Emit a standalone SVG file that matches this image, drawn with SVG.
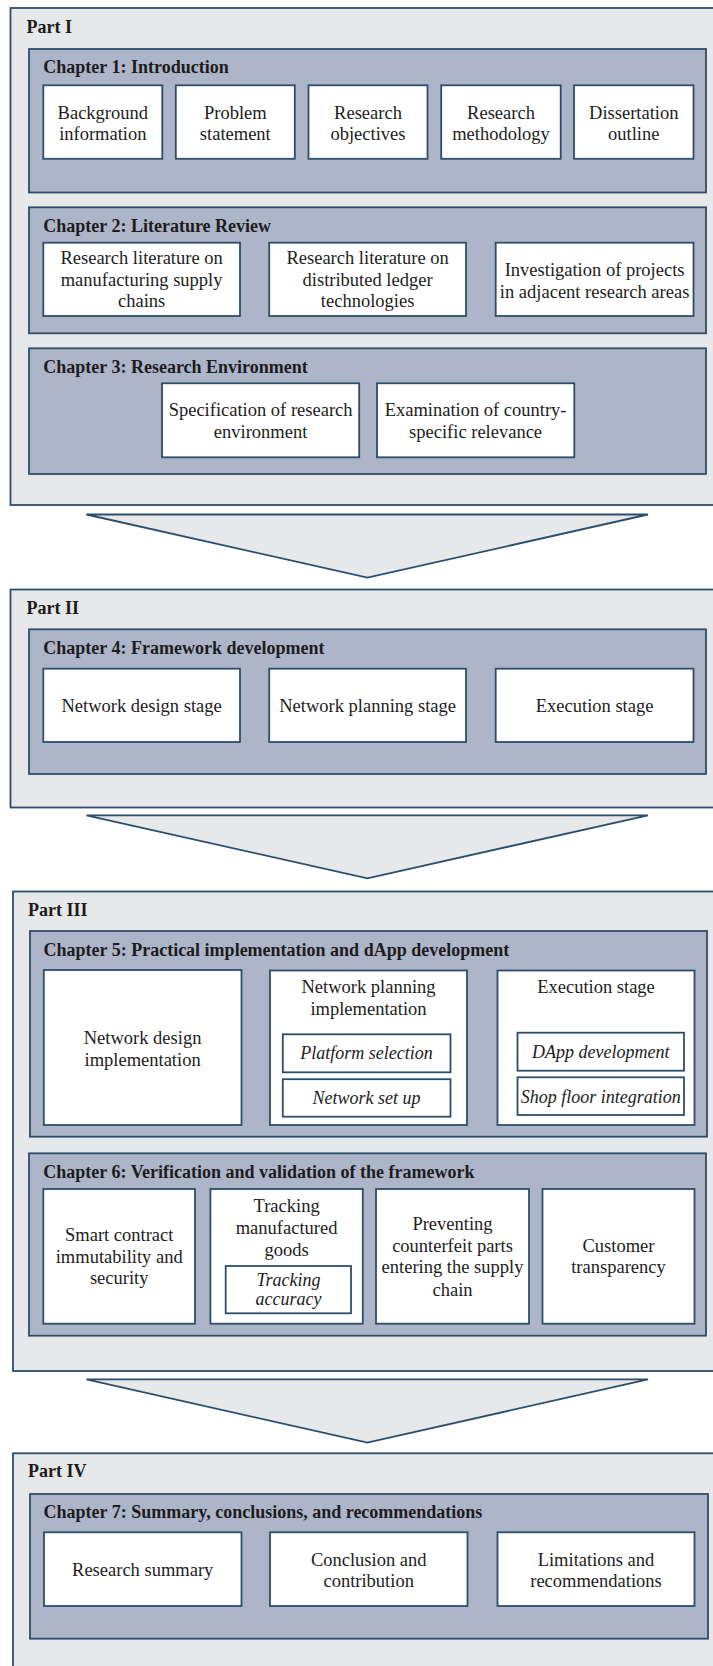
<svg xmlns="http://www.w3.org/2000/svg" width="713" height="1666" viewBox="0 0 713 1666">
  <style>
    .part { fill: #e7e8ea; stroke: #2d4d6c; stroke-width: 1.8; }
    .chap { fill: #adb5c8; stroke: #2d4d6c; stroke-width: 1.8; }
    .box { fill: #ffffff; stroke: #2d4d6c; stroke-width: 1.8; }
    .arrow { fill: #e7e8ea; stroke: #2d4d6c; stroke-width: 1.8; stroke-linejoin: miter; }
    text { font-family: "Liberation Serif", "Times New Roman", serif; fill: #1c1c1c; }
    .h { font-size: 18px; font-weight: bold; }
    .b { font-size: 18.5px; text-anchor: middle; }
    .i { font-size: 18px; font-style: italic; text-anchor: middle; }
  </style>

  <!-- ===== Part I ===== -->
  <g id="part1">
    <rect class="part" x="10.5" y="8" width="720" height="497"/>
    <text class="h" x="26.5" y="33">Part I</text>
  </g>

  <g id="chapter1">
    <rect class="chap" x="29" y="49" width="677" height="143.5"/>
    <text class="h" x="43.3" y="73">Chapter 1: Introduction</text>
    <g id="ch1-background">
      <rect class="box" x="43.3" y="85.3" width="119" height="73.5"/>
      <text class="b"><tspan x="102.8" y="118.7">Background</tspan><tspan x="102.8" y="140.3">information</tspan></text>
    </g>
    <g id="ch1-problem">
      <rect class="box" x="175.8" y="85.3" width="119" height="73.5"/>
      <text class="b"><tspan x="235.3" y="118.7">Problem</tspan><tspan x="235.3" y="140.3">statement</tspan></text>
    </g>
    <g id="ch1-objectives">
      <rect class="box" x="308.5" y="85.3" width="119" height="73.5"/>
      <text class="b"><tspan x="368" y="118.7">Research</tspan><tspan x="368" y="140.3">objectives</tspan></text>
    </g>
    <g id="ch1-methodology">
      <rect class="box" x="441.2" y="85.3" width="119.5" height="73.5"/>
      <text class="b"><tspan x="501" y="118.7">Research</tspan><tspan x="501" y="140.3">methodology</tspan></text>
    </g>
    <g id="ch1-outline">
      <rect class="box" x="574" y="85.3" width="119.5" height="73.5"/>
      <text class="b"><tspan x="633.8" y="118.7">Dissertation</tspan><tspan x="633.8" y="140.3">outline</tspan></text>
    </g>
  </g>

  <g id="chapter2">
    <rect class="chap" x="29" y="207.3" width="677" height="126"/>
    <text class="h" x="43.3" y="231.7">Chapter 2: Literature Review</text>
    <g id="ch2-msc">
      <rect class="box" x="43.3" y="242.7" width="196.7" height="73.3"/>
      <text class="b"><tspan x="141.6" y="263.5">Research literature on</tspan><tspan x="141.6" y="285.5">manufacturing supply</tspan><tspan x="141.6" y="307.3">chains</tspan></text>
    </g>
    <g id="ch2-dlt">
      <rect class="box" x="269.2" y="242.7" width="196.8" height="73.3"/>
      <text class="b"><tspan x="367.6" y="263.5">Research literature on</tspan><tspan x="367.6" y="285.5">distributed ledger</tspan><tspan x="367.6" y="307.3">technologies</tspan></text>
    </g>
    <g id="ch2-projects">
      <rect class="box" x="495.7" y="242.7" width="197.8" height="73.3"/>
      <text class="b"><tspan x="594.6" y="275.7">Investigation of projects</tspan><tspan x="594.6" y="297.7">in adjacent research areas</tspan></text>
    </g>
  </g>

  <g id="chapter3">
    <rect class="chap" x="29" y="348.3" width="677" height="125.7"/>
    <text class="h" x="43.3" y="372.7">Chapter 3: Research Environment</text>
    <g id="ch3-specification">
      <rect class="box" x="162" y="383.3" width="197.2" height="74"/>
      <text class="b"><tspan x="260.6" y="415.7">Specification of research</tspan><tspan x="260.6" y="437.7">environment</tspan></text>
    </g>
    <g id="ch3-relevance">
      <rect class="box" x="377" y="383.3" width="197.3" height="74"/>
      <text class="b"><tspan x="475.6" y="415.7">Examination of country-</tspan><tspan x="475.6" y="437.7">specific relevance</tspan></text>
    </g>
  </g>

  <!-- ===== Part II ===== -->
  <g id="part2">
    <rect class="part" x="10.5" y="589.5" width="720" height="218"/>
    <text class="h" x="26.5" y="614">Part II</text>
  </g>

  <g id="chapter4">
    <rect class="chap" x="29" y="629.3" width="677" height="144.7"/>
    <text class="h" x="43.3" y="654.3">Chapter 4: Framework development</text>
    <g id="ch4-design">
      <rect class="box" x="43.3" y="668.7" width="196.7" height="73.3"/>
      <text class="b" x="141.6" y="712">Network design  stage</text>
    </g>
    <g id="ch4-planning">
      <rect class="box" x="269.2" y="668.7" width="196.8" height="73.3"/>
      <text class="b" x="367.6" y="712">Network planning  stage</text>
    </g>
    <g id="ch4-execution">
      <rect class="box" x="495.7" y="668.7" width="197.8" height="73.3"/>
      <text class="b" x="594.6" y="712">Execution stage</text>
    </g>
  </g>

  <!-- ===== Part III ===== -->
  <g id="part3">
    <rect class="part" x="13" y="891.5" width="720" height="479.5"/>
    <text class="h" x="28" y="915.7">Part III</text>
  </g>

  <g id="chapter5">
    <rect class="chap" x="30" y="931" width="677" height="205.7"/>
    <text class="h" x="43.5" y="955.5">Chapter 5: Practical implementation  and dApp  development</text>
    <g id="ch5-design">
      <rect class="box" x="43.8" y="970" width="197.7" height="155"/>
      <text class="b"><tspan x="142.6" y="1044">Network design</tspan><tspan x="142.6" y="1065.5">implementation</tspan></text>
    </g>
    <g id="ch5-planning">
      <rect class="box" x="270" y="970.5" width="197" height="154.5"/>
      <text class="b"><tspan x="368.5" y="993.3">Network planning</tspan><tspan x="368.5" y="1015">implementation</tspan></text>
      <g id="ch5-platform">
        <rect class="box" x="282.8" y="1034.3" width="167.7" height="38"/>
        <text class="i" x="366.6" y="1059">Platform selection</text>
      </g>
      <g id="ch5-setup">
        <rect class="box" x="282.8" y="1079.2" width="167.7" height="37.5"/>
        <text class="i" x="366.6" y="1103.5">Network set up</text>
      </g>
    </g>
    <g id="ch5-execution">
      <rect class="box" x="497.5" y="970.5" width="197" height="154.5"/>
      <text class="b" x="596" y="993.3">Execution stage</text>
      <g id="ch5-dapp">
        <rect class="box" x="517.5" y="1032.7" width="166.5" height="38"/>
        <text class="i" x="600.8" y="1058.3">DApp development</text>
      </g>
      <g id="ch5-shopfloor">
        <rect class="box" x="517.5" y="1077.3" width="166.5" height="37.7"/>
        <text class="i" x="600.8" y="1102.7">Shop floor integration</text>
      </g>
    </g>
  </g>

  <g id="chapter6">
    <rect class="chap" x="29" y="1153.3" width="677" height="182.4"/>
    <text class="h" x="43.3" y="1177.5">Chapter 6: Verification and validation of the framework</text>
    <g id="ch6-immutability">
      <rect class="box" x="43.3" y="1189" width="151.7" height="134.7"/>
      <text class="b"><tspan x="119.2" y="1240.7">Smart contract</tspan><tspan x="119.2" y="1262.5">immutability and</tspan><tspan x="119.2" y="1284.3">security</tspan></text>
    </g>
    <g id="ch6-tracking">
      <rect class="box" x="210.4" y="1189" width="152.4" height="134.7"/>
      <text class="b"><tspan x="286.6" y="1212.3">Tracking</tspan><tspan x="286.6" y="1234">manufactured</tspan><tspan x="286.6" y="1256">goods</tspan></text>
      <g id="ch6-accuracy">
        <rect class="box" x="225.7" y="1266" width="125.3" height="47.3"/>
        <text class="i"><tspan x="288.4" y="1285.7">Tracking</tspan><tspan x="288.4" y="1305.3">accuracy</tspan></text>
      </g>
    </g>
    <g id="ch6-counterfeit">
      <rect class="box" x="376" y="1189" width="153" height="134.7"/>
      <text class="b"><tspan x="452.5" y="1230">Preventing</tspan><tspan x="452.5" y="1251.7">counterfeit parts</tspan><tspan x="452.5" y="1273.4">entering the supply</tspan><tspan x="452.5" y="1295.5">chain</tspan></text>
    </g>
    <g id="ch6-transparency">
      <rect class="box" x="542.5" y="1189" width="152" height="134.7"/>
      <text class="b"><tspan x="618.5" y="1251.7">Customer</tspan><tspan x="618.5" y="1273.4">transparency</tspan></text>
    </g>
  </g>

  <!-- ===== Part IV ===== -->
  <g id="part4">
    <rect class="part" x="13" y="1453.3" width="720" height="240"/>
    <text class="h" x="28" y="1477.3">Part IV</text>
  </g>

  <g id="chapter7">
    <rect class="chap" x="30" y="1494" width="678" height="144.7"/>
    <text class="h" x="43.5" y="1518.3">Chapter 7: Summary,  conclusions, and recommendations</text>
    <g id="ch7-summary">
      <rect class="box" x="44" y="1532.3" width="197.5" height="73.7"/>
      <text class="b" x="142.7" y="1575.7">Research summary</text>
    </g>
    <g id="ch7-conclusion">
      <rect class="box" x="270" y="1532.3" width="197.5" height="73.7"/>
      <text class="b"><tspan x="368.7" y="1565.7">Conclusion and</tspan><tspan x="368.7" y="1587">contribution</tspan></text>
    </g>
    <g id="ch7-limitations">
      <rect class="box" x="497.5" y="1532.3" width="197" height="73.7"/>
      <text class="b"><tspan x="596" y="1565.7">Limitations and</tspan><tspan x="596" y="1587">recommendations</tspan></text>
    </g>
  </g>

  <!-- ===== Flow arrows between parts ===== -->
  <g id="connectors">
    <polygon class="arrow" points="86.4,514.5 648,514.5 367.4,577.7"/>
    <polygon class="arrow" points="86.4,815.3 648,815.3 367.4,878.3"/>
    <polygon class="arrow" points="86.4,1379.3 648,1379.3 367.4,1442.7"/>
  </g>
</svg>
